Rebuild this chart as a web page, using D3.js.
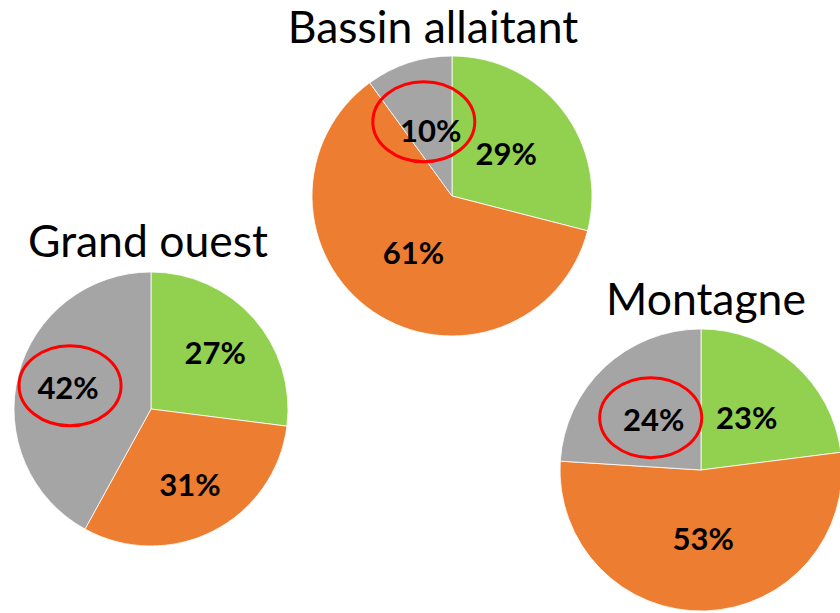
<!DOCTYPE html>
<html>
<head>
<meta charset="utf-8">
<script src="https://cdn.jsdelivr.net/npm/d3@7"></script>
<style>
  body { margin: 0; background: #fff; }
  text { font-family: Lato, "Open Sans", sans-serif; }
</style>
</head>
<body>
<div id="chart"></div>
<script>
// data
var regions = ['Bassin allaitant', 'Grand ouest', 'Montagne'];
var categories = ['vert', 'orange', 'gris'];
var bassinValues = [29, 61, 10];
var ouestValues = [27, 31, 42];
var montagneValues = [23, 53, 24];
var colors = ['#92D050', '#ED7D31', '#A5A5A5'];

// layout for each pie (not data)
var layout = [
  { values: bassinValues,   cx: 452, cy: 196, r: 140, labelK: 0.98, tx: 433, ty: 43,  ell: [-7, -9] },
  { values: ouestValues,    cx: 151, cy: 409, r: 137, labelK: 1.25, tx: 148, ty: 257, ell: [2, -2] },
  { values: montagneValues, cx: 701, cy: 470, r: 141, labelK: 0.98, tx: 706, ty: 315, ell: [-3, -2] }
];

var svg = d3.select('#chart')
            .append('svg')
            .attr('width', 840)
            .attr('height', 613);

var pie = d3.pie().sort(null).value(function(d){ return d; });

layout.forEach(function(p, i){
  var g = svg.append('g')
             .attr('transform', 'translate(' + p.cx + ',' + p.cy + ')');

  var arc = d3.arc().innerRadius(0).outerRadius(p.r);
  var labelArc = d3.arc().innerRadius(0).outerRadius(p.r * p.labelK);
  var slices = pie(p.values);

  g.selectAll('path')
   .data(slices)
   .enter().append('path')
   .attr('d', arc)
   .attr('fill', function(d, j){ return colors[j]; })
   .attr('stroke', '#fff')
   .attr('stroke-width', 0.8);

  g.selectAll('text.lbl')
   .data(slices)
   .enter().append('text')
   .attr('class', 'lbl')
   .attr('transform', function(d){ return 'translate(' + labelArc.centroid(d) + ')'; })
   .attr('text-anchor', 'middle')
   .attr('dy', '0.36em')
   .style('font-size', '31px')
   .style('font-weight', 'bold')
   .text(function(d){ return d.value + '%'; });

  // red circle around the grey share
  var c = labelArc.centroid(slices[2]);
  g.append('ellipse')
   .attr('cx', c[0] + p.ell[0])
   .attr('cy', c[1] + p.ell[1])
   .attr('rx', 51)
   .attr('ry', 40)
   .attr('fill', 'none')
   .attr('stroke', '#FF0000')
   .attr('stroke-width', 3);

  svg.append('text')
     .attr('x', p.tx)
     .attr('y', p.ty)
     .attr('text-anchor', 'middle')
     .style('font-size', '44.5px')
     .text(regions[i]);
});
</script>
</body>
</html>
